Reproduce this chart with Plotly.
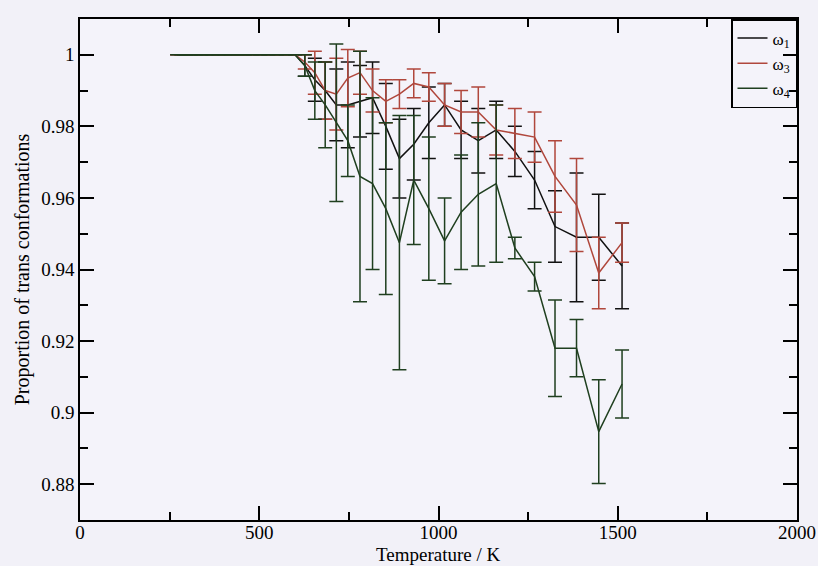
import plotly.graph_objects as go

temperature = [271, 283, 296, 309, 323, 338, 353, 369, 386, 403, 421, 440, 460, 481,
               503, 525, 549, 574, 600, 627, 655, 684, 715, 747, 781, 816, 853, 891,
               931, 973, 1017, 1063, 1111, 1161, 1213, 1268, 1325, 1385, 1447, 1512]

flat = [1.0] * 18
zero = [0.0] * 18

omega1 = flat + [1.0, 0.997, 0.993, 0.990, 0.986, 0.986, 0.987, 0.988, 0.980, 0.971, 0.975,
                 0.981, 0.986, 0.979, 0.976, 0.979, 0.973, 0.965, 0.952, 0.949, 0.949, 0.941]
omega1_err = zero + [0.0, 0.003, 0.006, 0.008, 0.010, 0.012, 0.010, 0.010, 0.012, 0.011, 0.010,
                     0.010, 0.006, 0.008, 0.009, 0.008, 0.007, 0.008, 0.010, 0.018, 0.012, 0.012]

omega3 = flat + [1.0, 0.998, 0.995, 0.990, 0.989, 0.9935, 0.995, 0.990, 0.987, 0.989, 0.992,
                 0.991, 0.986, 0.984, 0.984, 0.979, 0.978, 0.977, 0.966, 0.958, 0.939, 0.9475]
omega3_err = zero + [0.0, 0.002, 0.006, 0.008, 0.010, 0.008, 0.006, 0.006, 0.006, 0.004, 0.004,
                     0.004, 0.006, 0.006, 0.007, 0.007, 0.007, 0.007, 0.010, 0.013, 0.010, 0.0055]

omega4 = flat + [1.0, 0.997, 0.990, 0.986, 0.981, 0.976, 0.966, 0.964, 0.957, 0.9475, 0.965,
                 0.957, 0.948, 0.956, 0.961, 0.964, 0.946, 0.938, 0.918, 0.918, 0.8947, 0.908]
omega4_err = zero + [0.0, 0.003, 0.008, 0.012, 0.022, 0.010, 0.035, 0.024, 0.024, 0.0355, 0.018,
                     0.020, 0.012, 0.016, 0.020, 0.022, 0.003, 0.004, 0.0135, 0.008, 0.0145, 0.0095]

series = [
    ("ω<sub>1</sub>", omega1, omega1_err, "#111111"),
    ("ω<sub>3</sub>", omega3, omega3_err, "#b0473c"),
    ("ω<sub>4</sub>", omega4, omega4_err, "#1f3f1f"),
]

fig = go.Figure()
for name, vals, errs, color in series:
    fig.add_trace(go.Scatter(
        x=temperature, y=vals, name=name, mode="lines",
        line=dict(color=color, width=1.5),
        error_y=dict(type="data", array=errs, visible=True, color=color,
                     thickness=1.5, width=7),
    ))

font_family = "Liberation Serif"
axis_common = dict(
    showline=True, linecolor="black", linewidth=1.5, mirror="ticks",
    ticks="inside", ticklen=14, tickwidth=1.5, tickcolor="black",
    showgrid=False, zeroline=False, automargin=False,
    tickfont=dict(family=font_family, size=19, color="black"),
)

fig.update_layout(
    width=818, height=566,
    margin=dict(l=80, r=21, t=19, b=46),
    paper_bgcolor="#f2f1f8", plot_bgcolor="#f4f3fa",
    font=dict(family=font_family, color="black"),
    xaxis=dict(range=[0, 2000], dtick=500, tick0=0, ticklabelstandoff=-6,
               minor=dict(dtick=250, ticks="inside", ticklen=8, tickwidth=1.5, tickcolor="black"),
               **axis_common),
    yaxis=dict(range=[0.87, 1.01], dtick=0.02, tick0=0.88,
               minor=dict(dtick=0.01, ticks="inside", ticklen=8, tickwidth=1.5, tickcolor="black"),
               title=dict(text="Proportion of trans conformations", font=dict(family=font_family, size=20), standoff=6),
               **axis_common),
    legend=dict(x=1, y=1, xanchor="right", yanchor="top", bgcolor="rgba(0,0,0,0)",
                bordercolor="black", borderwidth=1.5,
                font=dict(family=font_family, size=17), tracegroupgap=0, itemwidth=30),
    showlegend=True,
    annotations=[dict(text="Temperature / K", xref="paper", yref="paper", x=0.5, y=-0.068,
                      xanchor="center", yanchor="middle", showarrow=False,
                      font=dict(family=font_family, size=19, color="black"))],
)

fig.write_html("out.html")
